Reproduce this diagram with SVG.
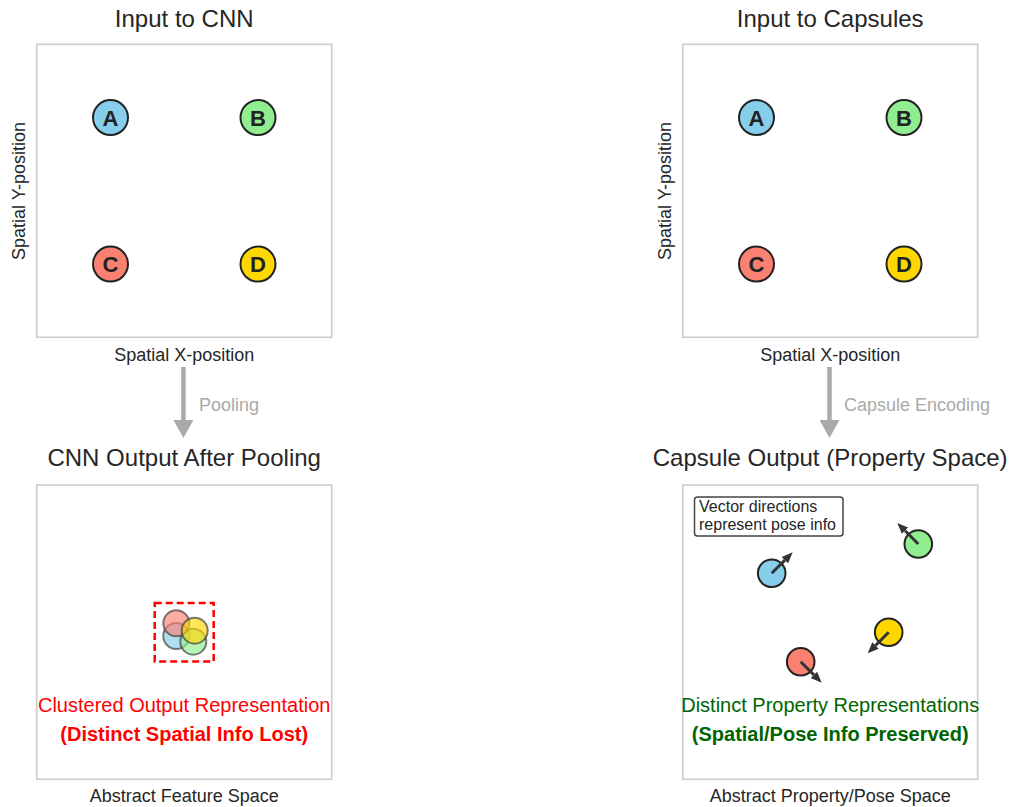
<svg xmlns="http://www.w3.org/2000/svg" width="1010" height="807" viewBox="0 0 1010 807">
  <style>
    text { font-family: "Liberation Sans", Arial, sans-serif; fill: #262626; }
    .title { font-size: 24px; text-anchor: middle; }
    .axis { font-size: 18px; text-anchor: middle; }
    .frame { fill: #ffffff; stroke: #cccccc; stroke-width: 1.6; }
    .pt { stroke: #222222; stroke-width: 2; }
    .lbl { font-size: 22px; font-weight: bold; text-anchor: middle; fill: #222222; }
    .flow { stroke: #aaaaaa; stroke-width: 4.5; }
    .flowtxt { font-size: 18px; fill: #aaaaaa; }
    .blob { fill-opacity: 0.65; stroke: #444444; stroke-opacity: 0.7; stroke-width: 2; }
    .cap { stroke: #222222; stroke-width: 2; }
    .vec { stroke: #333333; stroke-width: 3; marker-end: url(#vhead); }
    .c-a { fill: #87ceeb; }
    .c-b { fill: #90ee90; }
    .c-c { fill: #fa8072; }
    .c-d { fill: #ffd700; }
  </style>
  <defs>
    <marker id="vhead" markerUnits="userSpaceOnUse" markerWidth="12" markerHeight="10" viewBox="0 -5 12 10" refX="0" refY="0" orient="auto">
      <path d="M0,-4.5 L11,0 L0,4.5 z" fill="#333333"/>
    </marker>
    <marker id="fhead" markerUnits="userSpaceOnUse" markerWidth="22" markerHeight="20" viewBox="0 -10.5 20 21" refX="0" refY="0" orient="auto">
      <path d="M0,-10.5 L19,0 L0,10.5 z" fill="#aaaaaa"/>
    </marker>
  </defs>

  <!-- panel 1: input to CNN -->
  <g id="panel-cnn-input">
    <text class="title" x="184.2" y="27">Input to CNN</text>
    <rect class="frame" x="36.7" y="44.3" width="295" height="293"/>
    <text class="axis" x="184.2" y="361">Spatial X-position</text>
    <text class="axis" transform="translate(25,191) rotate(-90)">Spatial Y-position</text>
  </g>
  <g id="cnn-in-A"><circle class="pt c-a" cx="110.5" cy="117.6" r="17.5"/><text class="lbl" x="110.5" y="125.5">A</text></g>
  <g id="cnn-in-B"><circle class="pt c-b" cx="258" cy="117.6" r="17.5"/><text class="lbl" x="258" y="125.5">B</text></g>
  <g id="cnn-in-C"><circle class="pt c-c" cx="110.5" cy="264.1" r="17.5"/><text class="lbl" x="110.5" y="272">C</text></g>
  <g id="cnn-in-D"><circle class="pt c-d" cx="258" cy="264.1" r="17.5"/><text class="lbl" x="258" y="272">D</text></g>

  <!-- panel 2: input to capsules -->
  <g id="panel-caps-input">
    <text class="title" x="830.2" y="27">Input to Capsules</text>
    <rect class="frame" x="682.7" y="44.3" width="295" height="293"/>
    <text class="axis" x="830.2" y="361">Spatial X-position</text>
    <text class="axis" transform="translate(671,191) rotate(-90)">Spatial Y-position</text>
  </g>
  <g id="caps-in-A"><circle class="pt c-a" cx="756.5" cy="117.6" r="17.5"/><text class="lbl" x="756.5" y="125.5">A</text></g>
  <g id="caps-in-B"><circle class="pt c-b" cx="904" cy="117.6" r="17.5"/><text class="lbl" x="904" y="125.5">B</text></g>
  <g id="caps-in-C"><circle class="pt c-c" cx="756.5" cy="264.1" r="17.5"/><text class="lbl" x="756.5" y="272">C</text></g>
  <g id="caps-in-D"><circle class="pt c-d" cx="904" cy="264.1" r="17.5"/><text class="lbl" x="904" y="272">D</text></g>

  <!-- transitions between the rows -->
  <g id="connectors">
    <line class="flow" x1="183.4" y1="367" x2="183.4" y2="420" marker-end="url(#fhead)"/>
    <text class="flowtxt" x="199" y="411">Pooling</text>
    <line class="flow" x1="829.5" y1="367" x2="829.5" y2="420" marker-end="url(#fhead)"/>
    <text class="flowtxt" x="844" y="411">Capsule Encoding</text>
  </g>

  <!-- panel 3: pooled CNN output -->
  <g id="panel-cnn-output">
    <text class="title" x="184.2" y="466">CNN Output After Pooling</text>
    <rect class="frame" x="36.7" y="485" width="295" height="294.3"/>
    <text class="axis" x="184.2" y="802">Abstract Feature Space</text>
    <text x="184.2" y="711.5" style="font-size:20px;text-anchor:middle;fill:#ff0000">Clustered Output Representation</text>
    <text x="184.2" y="741" style="font-size:20px;font-weight:bold;text-anchor:middle;fill:#ff0000">(Distinct Spatial Info Lost)</text>
  </g>
  <g id="cnn-out-cluster">
    <rect x="154.7" y="603" width="59" height="58.5" fill="none" stroke="#ff0000" stroke-width="2.5" stroke-dasharray="7,4"/>
    <circle class="blob c-a" cx="176.3" cy="636" r="13"/>
    <circle class="blob c-b" cx="193.3" cy="641.7" r="13"/>
    <circle class="blob c-c" cx="176.3" cy="623.3" r="13"/>
    <circle class="blob c-d" cx="194.7" cy="630.7" r="13"/>
  </g>

  <!-- panel 4: capsule output -->
  <g id="panel-caps-output">
    <text class="title" x="830.2" y="466">Capsule Output (Property Space)</text>
    <rect class="frame" x="682.7" y="485" width="295" height="294.3"/>
    <text class="axis" x="830.2" y="802">Abstract Property/Pose Space</text>
    <text x="830.2" y="711.5" style="font-size:20px;text-anchor:middle;fill:#006400">Distinct Property Representations</text>
    <text x="830.2" y="741" style="font-size:20px;font-weight:bold;text-anchor:middle;fill:#006400">(Spatial/Pose Info Preserved)</text>
  </g>
  <g id="pose-note">
    <rect x="694.5" y="497" width="148.5" height="39" rx="3" fill="#ffffff" stroke="#444444" stroke-width="1.5"/>
    <text x="699" y="512.3" style="font-size:16px">Vector directions</text>
    <text x="699" y="529.5" style="font-size:16px">represent pose info</text>
  </g>
  <g id="caps-out-A">
    <circle class="cap c-a" cx="771.7" cy="573.3" r="13.8"/>
    <line class="vec" x1="771.7" y1="573.3" x2="784.9" y2="560.1"/>
  </g>
  <g id="caps-out-B">
    <circle class="cap c-b" cx="918.3" cy="544" r="13.8"/>
    <line class="vec" x1="918.3" y1="544" x2="905.1" y2="530.8"/>
  </g>
  <g id="caps-out-C">
    <circle class="cap c-c" cx="800.7" cy="661.7" r="13.8"/>
    <line class="vec" x1="800.7" y1="661.7" x2="813.9" y2="674.9"/>
  </g>
  <g id="caps-out-D">
    <circle class="cap c-d" cx="888.7" cy="632.3" r="13.8"/>
    <line class="vec" x1="888.7" y1="632.3" x2="875.5" y2="645.5"/>
  </g>
</svg>
